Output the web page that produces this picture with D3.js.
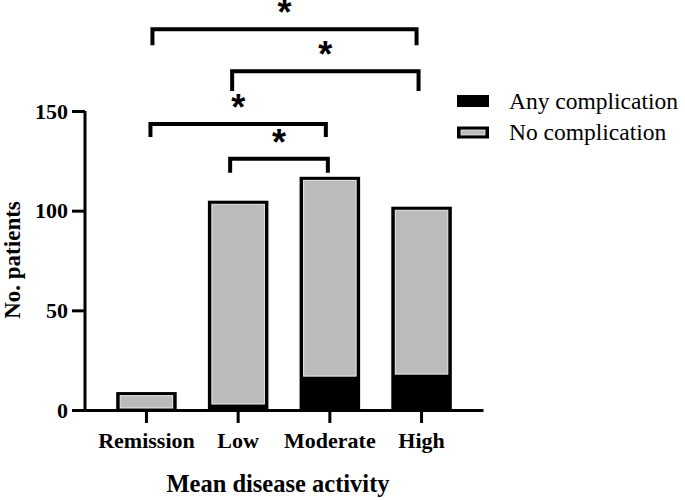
<!DOCTYPE html>
<html>
<head>
<meta charset="utf-8">
<script src="https://cdn.jsdelivr.net/npm/d3@7"></script>
<style>
  html, body { margin: 0; padding: 0; background: #fff; }
  svg { display: block; }
</style>
</head>
<body>
<svg id="chart" width="685" height="500"></svg>
<script>
// ---- data ----
const categories = ["Remission", "Low", "Moderate", "High"];
const anyComplication = [0, 3, 17, 18];
const noComplication = [9, 102, 100, 84];
const seriesNames = ["Any complication", "No complication"];
const yTicks = [0, 50, 100, 150];
// significance comparisons: from category, to category, bracket level (data units), label
const compFrom = ["Remission", "Low", "Remission", "Low"];
const compTo = ["High", "High", "Moderate", "Moderate"];
const compLevel = [191, 170, 143.5, 126];
const compLabel = ["*", "*", "*", "*"];

// ---- layout ----
const svg = d3.select("#chart");
const x = d3.scaleBand().domain(categories).range([85, 483]).paddingInner(0.34).paddingOuter(0.34);
const y = d3.scaleLinear().domain([0, 150]).range([410, 111]);
const serif = "'Liberation Serif', 'Times New Roman', serif";

// bars
const totals = categories.map((c, i) => anyComplication[i] + noComplication[i]);
const bars = svg.append("g");
categories.forEach((c, i) => {
  const x0 = x(c), w = x.bandwidth();
  const yTop = y(totals[i]);
  const yAny = y(anyComplication[i]);
  bars.append("rect").attr("x", x0).attr("y", yTop)
    .attr("width", w).attr("height", y(0) - yTop).attr("fill", "#000");
  const gTop = yTop + 3.6;
  const gBot = Math.min(yAny, y(0) - 2);
  bars.append("rect").attr("x", x0 + 4).attr("y", gTop)
    .attr("width", w - 8).attr("height", Math.max(0, gBot - gTop))
    .attr("fill", "#bbbbbb").attr("stroke", "#ececec").attr("stroke-width", 1);
});

// axes
const yAxis = svg.append("g").attr("transform", "translate(85,0)")
  .call(d3.axisLeft(y).tickValues(yTicks).tickSize(13).tickSizeOuter(0).tickPadding(3));
const xAxis = svg.append("g").attr("transform", "translate(0,410)")
  .call(d3.axisBottom(x).tickSize(13).tickSizeOuter(0).tickPadding(10));
[yAxis, xAxis].forEach(g => {
  g.attr("font-family", null).attr("font-size", null);
  g.select(".domain").attr("stroke", "#000").attr("stroke-width", 3);
  g.selectAll(".tick line").attr("stroke", "#000").attr("stroke-width", 3);
  g.selectAll(".tick text").attr("fill", "#000")
    .style("font-family", serif).style("font-weight", "bold").style("font-size", "22px");
});
yAxis.select(".domain").attr("d", `M0,${y(0) + 1.5}V${y(150)}`);
xAxis.selectAll(".tick text").attr("dy", "0.71em").attr("y", 22);
yAxis.selectAll(".tick text").attr("x", -17);

// axis titles
svg.append("text").attr("x", 278).attr("y", 492).attr("text-anchor", "middle")
  .style("font-family", serif).style("font-weight", "bold").style("font-size", "24.5px")
  .text("Mean disease activity");
svg.append("text").attr("transform", "translate(20,260) rotate(-90)").attr("text-anchor", "middle")
  .style("font-family", serif).style("font-weight", "bold").style("font-size", "23px")
  .text("No. patients");

// significance brackets
const fromOffset = [6, -6, 4, -8];
const toOffset = [-5, -3, -4, -2];
const legLen = [8, 10, 6.5, 7];
const brackets = svg.append("g");
compFrom.forEach((f, i) => {
  const xa = x(f) + x.bandwidth() / 2 + fromOffset[i];
  const xb = x(compTo[i]) + x.bandwidth() / 2 + toOffset[i];
  const yl = y(compLevel[i]);
  const yleg = y(compLevel[i] - legLen[i]);
  brackets.append("path").attr("d", `M${xa},${yleg}V${yl}H${xb}V${yleg}`)
    .attr("fill", "none").attr("stroke", "#000").attr("stroke-width", 4);
  brackets.append("text").attr("x", (xa + xb) / 2).attr("y", yl - 4).attr("text-anchor", "middle")
    .style("font-family", "'Liberation Sans', Arial, sans-serif")
    .style("font-weight", "bold").style("font-size", "36px").text(compLabel[i]);
});

// legend
const legend = svg.append("g");
seriesNames.forEach((s, i) => {
  const ly = 95 + i * 31.5;
  legend.append("rect").attr("x", 457).attr("y", ly).attr("width", 32).attr("height", 12).attr("fill", "#000");
  if (i === 1) {
    legend.append("rect").attr("x", 461).attr("y", ly + 3.5).attr("width", 24).attr("height", 5)
      .attr("fill", "#bbbbbb").attr("stroke", "#ececec").attr("stroke-width", 0.8);
  }
  legend.append("text").attr("x", 509).attr("y", ly + 13.5).attr("fill", "#000")
    .style("font-family", serif).style("font-weight", "normal").style("font-size", "23.5px").text(s);
});
</script>
</body>
</html>
